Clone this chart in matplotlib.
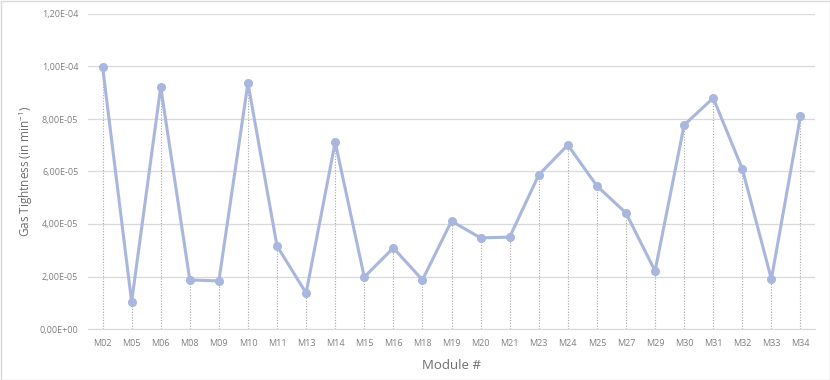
import matplotlib.pyplot as plt
from matplotlib.ticker import FuncFormatter, MultipleLocator
from matplotlib.patches import Rectangle

modules = ['M02', 'M05', 'M06', 'M08', 'M09', 'M10', 'M11', 'M13', 'M14', 'M15',
           'M16', 'M18', 'M19', 'M20', 'M21', 'M23', 'M24', 'M25', 'M27', 'M29',
           'M30', 'M31', 'M32', 'M33', 'M34']
tightness = [1.00e-4, 1.03e-5, 9.22e-5, 1.87e-5, 1.83e-5, 9.37e-5, 3.16e-5, 1.37e-5,
             7.12e-5, 1.98e-5, 3.09e-5, 1.87e-5, 4.11e-5, 3.47e-5, 3.50e-5, 5.87e-5,
             7.01e-5, 5.45e-5, 4.42e-5, 2.21e-5, 7.77e-5, 8.80e-5, 6.10e-5, 1.90e-5,
             8.11e-5]

plt.rcParams['font.family'] = ['Open Sans', 'DejaVu Sans']
fig = plt.figure(figsize=(8.3, 3.8), dpi=100)
ax = fig.add_axes([88 / 830, 51 / 380, 727 / 830, 315 / 380])

x = range(len(modules))
line_col = '#a9b6dd'
ax.vlines(x, 0, tightness, colors='#a6a6a6', linestyles=(0, (1, 1.5)), linewidth=0.8, zorder=1)
ax.plot(x, tightness, color=line_col, linewidth=2.2, marker='o', markersize=5.5, zorder=3)

ax.set_xlim(-0.5, len(modules) - 0.5)
ax.set_ylim(0, 1.2e-4)
ax.yaxis.set_major_locator(MultipleLocator(2e-5))
ax.yaxis.set_major_formatter(FuncFormatter(lambda v, p: f'{v:.2E}'.replace('.', ',')))
ax.set_xticks(list(x))
ax.set_xticklabels(modules)
ax.grid(axis='y', color='#d9d9d9', linewidth=0.9)
ax.set_axisbelow(True)
for s in ['top', 'right', 'left']:
    ax.spines[s].set_visible(False)
ax.spines['bottom'].set_color('#d9d9d9')
ax.tick_params(axis='both', length=0, labelsize=6.5, colors='#7f7f7f', pad=7)

ax.set_ylabel('Gas Tightness (in min$^{\\mathregular{-1}}$)', fontsize=8.5, color='#6e6e6e', labelpad=3)
ax.set_xlabel('Module #', fontsize=9.5, color='#6e6e6e', labelpad=8)

fig.patches.append(Rectangle((0.5 / 830, 0.5 / 380), 829 / 830, 379 / 380, transform=fig.transFigure,
                             fill=False, edgecolor='#d9d9d9', linewidth=1))
fig.savefig('out.png', dpi=100)
